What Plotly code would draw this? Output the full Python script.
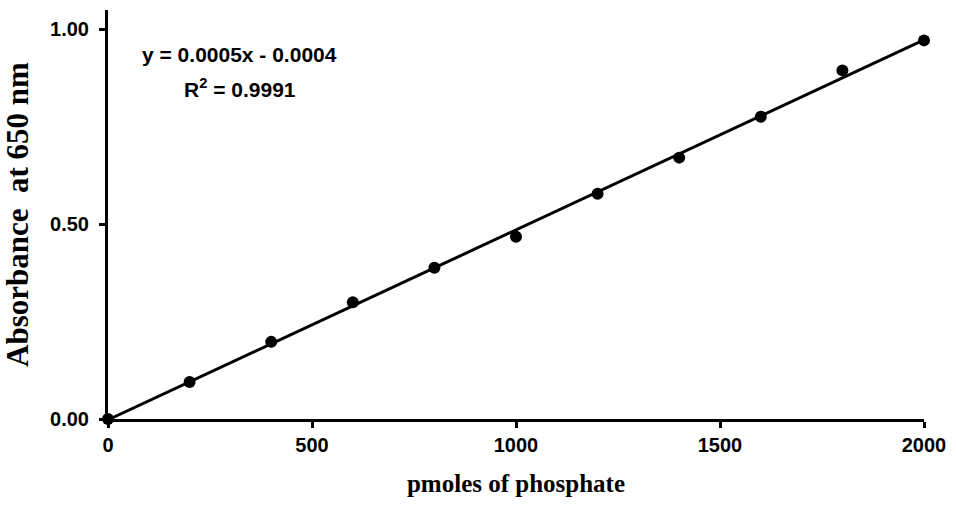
import numpy as np
import plotly.graph_objects as go

# Data
pmoles = [0, 200, 400, 600, 800, 1000, 1200, 1400, 1600, 1800, 2000]
absorbance = [0.000, 0.095, 0.198, 0.300, 0.388, 0.468, 0.578, 0.671, 0.776, 0.895, 0.972]

x_ticks = [0, 500, 1000, 1500, 2000]
y_ticks = [0.0, 0.5, 1.0]
y_tick_labels = ["0.00", "0.50", "1.00"]

eq_text = "y = 0.0005x - 0.0004"
r2_text = "R<sup>2</sup> = 0.9991"

# Linear trendline from the data
slope, intercept = np.polyfit(pmoles, absorbance, 1)
fit_x = [min(pmoles), max(pmoles)]
fit_y = [slope * v + intercept for v in fit_x]

fig = go.Figure()
fig.add_trace(go.Scatter(
    x=fit_x, y=fit_y, mode="lines",
    line=dict(color="black", width=3),
    hoverinfo="skip", showlegend=False, cliponaxis=False,
))
fig.add_trace(go.Scatter(
    x=pmoles, y=absorbance, mode="markers",
    marker=dict(color="black", size=12),
    showlegend=False, cliponaxis=False,
))

sans = "Liberation Sans"
serif = "Liberation Serif"

fig.update_layout(
    width=956, height=522,
    margin=dict(l=108, r=30, t=10, b=103),
    paper_bgcolor="white", plot_bgcolor="white",
    xaxis=dict(
        range=[0, 2000], tickvals=x_ticks,
        showline=True, linecolor="black", linewidth=3,
        ticks="outside", ticklen=6, tickwidth=3, tickcolor="black",
        showgrid=False, zeroline=False,
        tickfont=dict(family=sans, size=20, color="black", weight="bold"),
        title=dict(text="pmoles of phosphate", standoff=20,
                   font=dict(family=serif, size=25, color="black", weight="bold")),
    ),
    yaxis=dict(
        range=[0, 1.05], tickvals=y_ticks, ticktext=y_tick_labels,
        showline=True, linecolor="black", linewidth=3,
        ticks="outside", ticklen=6, tickwidth=3, tickcolor="black",
        ticklabelstandoff=6,
        showgrid=False, zeroline=False,
        tickfont=dict(family=sans, size=20, color="black", weight="bold"),
        title=dict(text="Absorbance  at 650 nm", standoff=14,
                   font=dict(family=serif, size=31, color="black", weight="bold")),
    ),
    annotations=[
        dict(x=323, y=0.936, xref="x", yref="y", text=eq_text, showarrow=False,
             font=dict(family=sans, size=21, color="black", weight="bold")),
        dict(x=323, y=0.851, xref="x", yref="y", text=r2_text, showarrow=False,
             font=dict(family=sans, size=21, color="black", weight="bold")),
    ],
)

fig.write_html("out.html")
